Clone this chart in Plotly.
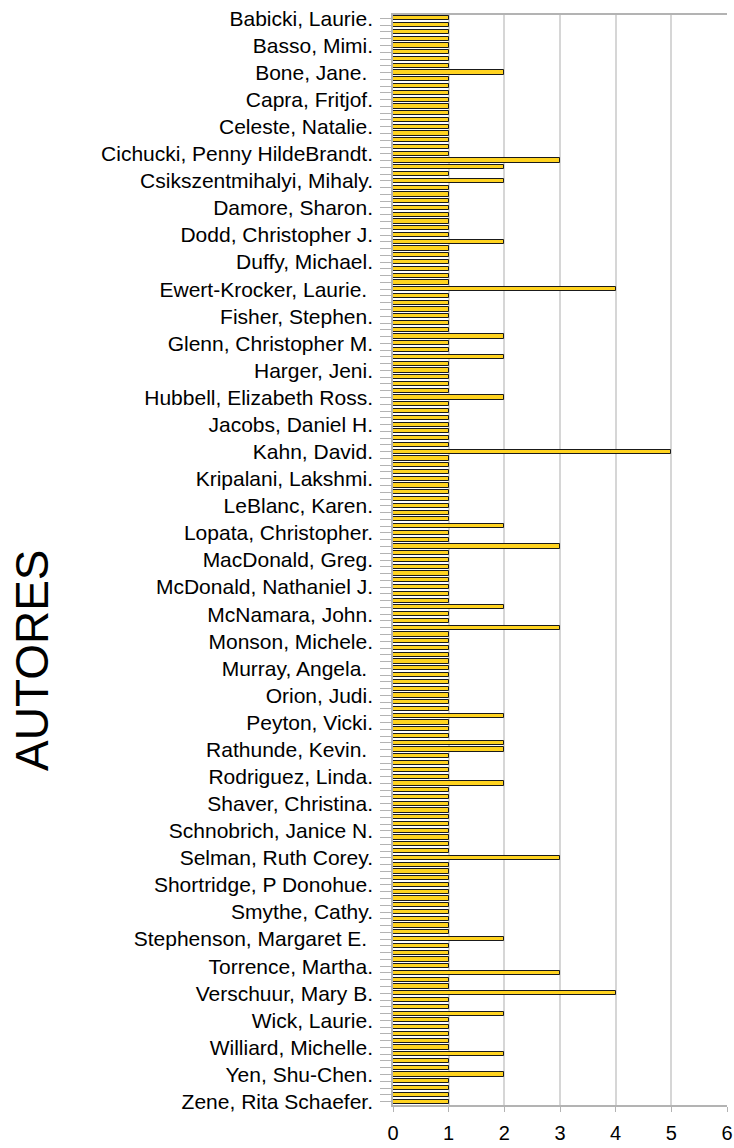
import plotly.graph_objects as go

# Category positions (0 = first author at top); only every 4th is labelled
label_positions = [0, 4, 8, 12, 16, 20, 24, 28, 32, 36, 40, 44, 48, 52, 56, 60, 64, 68, 72, 76,
                   80, 84, 88, 92, 96, 100, 104, 108, 112, 116, 120, 124, 128, 132, 136, 140,
                   144, 148, 152, 156, 160]
author_labels = [
    "Babicki, Laurie.", "Basso, Mimi.", "Bone, Jane.\u00a0", "Capra, Fritjof.",
    "Celeste, Natalie.", "Cichucki, Penny HildeBrandt.", "Csikszentmihalyi, Mihaly.",
    "Damore, Sharon.", "Dodd, Christopher J.", "Duffy, Michael.",
    "Ewert-Krocker, Laurie.\u00a0", "Fisher, Stephen.", "Glenn, Christopher M.",
    "Harger, Jeni.", "Hubbell, Elizabeth Ross.", "Jacobs, Daniel H.", "Kahn, David.",
    "Kripalani, Lakshmi.", "LeBlanc, Karen.", "Lopata, Christopher.", "MacDonald, Greg.",
    "McDonald, Nathaniel J.", "McNamara, John.", "Monson, Michele.", "Murray, Angela.\u00a0",
    "Orion, Judi.", "Peyton, Vicki.", "Rathunde, Kevin.\u00a0", "Rodriguez, Linda.",
    "Shaver, Christina.", "Schnobrich, Janice N.", "Selman, Ruth Corey.",
    "Shortridge, P Donohue.", "Smythe, Cathy.", "Stephenson, Margaret E.\u00a0",
    "Torrence, Martha.", "Verschuur, Mary B.", "Wick, Laurie.", "Williard, Michelle.",
    "Yen, Shu-Chen.", "Zene, Rita Schaefer.",
]

# Number of works per author (161 authors, top to bottom)
counts = [
    1, 1, 1, 1, 1, 1, 1, 1, 2, 1,
    1, 1, 1, 1, 1, 1, 1, 1, 1, 1,
    1, 3, 2, 1, 2, 1, 1, 1, 1, 1,
    1, 1, 1, 2, 1, 1, 1, 1, 1, 1,
    4, 1, 1, 1, 1, 1, 1, 2, 1, 1,
    2, 1, 1, 1, 1, 1, 2, 1, 1, 1,
    1, 1, 1, 1, 5, 1, 1, 1, 1, 1,
    1, 1, 1, 1, 1, 2, 1, 1, 3, 1,
    1, 1, 1, 1, 1, 1, 1, 2, 1, 1,
    3, 1, 1, 1, 1, 1, 1, 1, 1, 1,
    1, 1, 1, 2, 1, 1, 1, 2, 2, 1,
    1, 1, 1, 2, 1, 1, 1, 1, 1, 1,
    1, 1, 1, 1, 3, 1, 1, 1, 1, 1,
    1, 1, 1, 1, 1, 1, 2, 1, 1, 1,
    1, 3, 1, 1, 4, 1, 1, 2, 1, 1,
    1, 1, 1, 2, 1, 1, 2, 1, 1, 1,
    1,
]
positions = list(range(len(counts)))

x_ticks = [0, 1, 2, 3, 4, 5, 6]

FONT = "Liberation Sans, Arial, sans-serif"

fig = go.Figure(go.Bar(
    x=counts, y=positions, orientation="h", width=0.62,
    marker=dict(color="#FFD320", line=dict(color="#1a1a1a", width=1)),
))

fig.update_layout(
    width=734, height=1148,
    margin=dict(l=393, r=7, t=15, b=43, autoexpand=False),
    paper_bgcolor="white", plot_bgcolor="white",
    showlegend=False,
    font=dict(family=FONT, size=20, color="#000000"),
    bargap=0,
)

fig.update_xaxes(
    range=[0, 6], tickvals=x_ticks, ticktext=[str(v) for v in x_ticks],
    showgrid=True, gridcolor="#d6d6d6", gridwidth=1.5,
    showline=True, linecolor="#b3b3b3", linewidth=1.5, mirror=True,
    ticks="outside", ticklen=5, tickcolor="#b3b3b3",
    tickfont=dict(size=20, family=FONT, color="#000000"),
    ticklabelstandoff=4, zeroline=False, automargin=False,
)

fig.update_yaxes(
    range=[len(counts) - 0.5, -0.5],
    tickmode="array", tickvals=label_positions, ticktext=author_labels,
    showgrid=False, zeroline=False,
    showline=True, linecolor="#b3b3b3", linewidth=1.5,
    ticks="outside", ticklen=11, tickcolor="#b3b3b3",
    minor=dict(tickmode="linear", tick0=0, dtick=1, ticks="outside", ticklen=11,
               tickcolor="#b3b3b3", showgrid=False),
    tickfont=dict(size=21, family=FONT, color="#000000"),
    ticklabelstandoff=3, automargin=False,
)

fig.add_annotation(
    text="AUTORES", textangle=-90, showarrow=False,
    xref="paper", yref="paper", x=(32 - 393) / 334, y=(1105 - 660) / 1090,
    xanchor="center", yanchor="middle",
    font=dict(size=46, family=FONT, color="#000000"),
)

fig.write_html("out.html")
